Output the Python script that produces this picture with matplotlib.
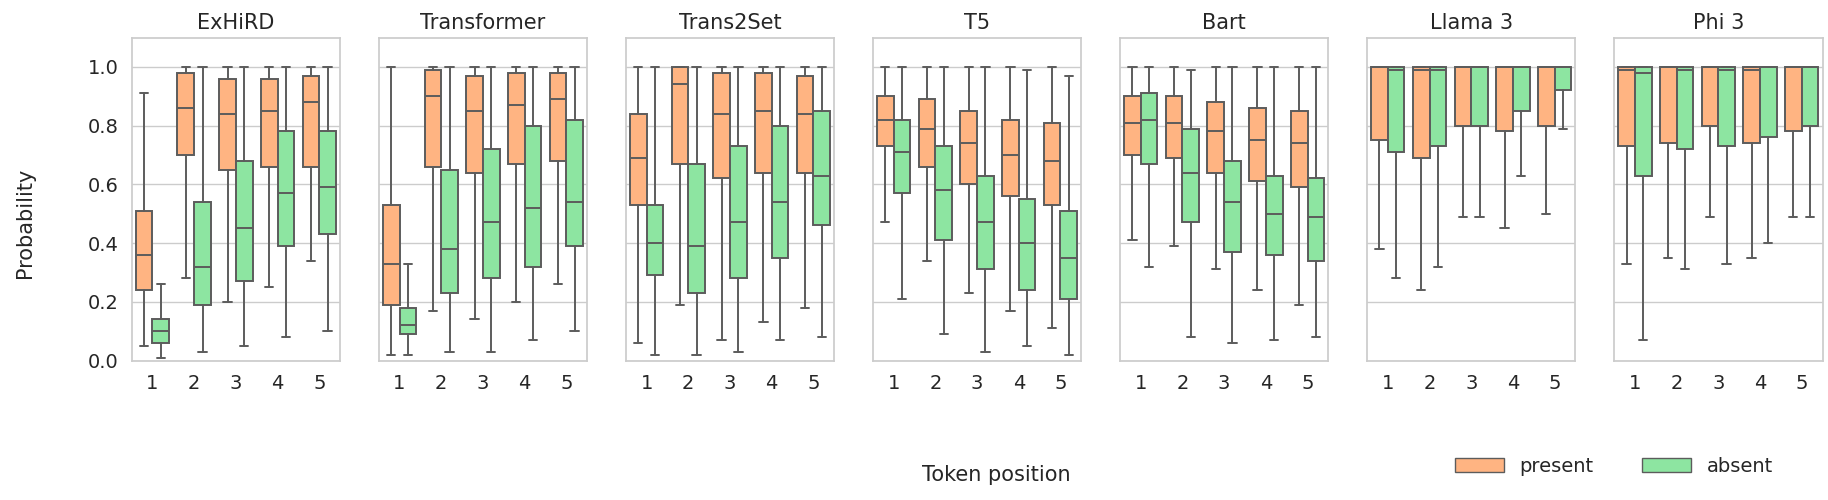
import matplotlib
matplotlib.use("Agg")
import matplotlib.pyplot as plt
import seaborn as sns
from matplotlib.patches import Patch

sns.set_theme(style="whitegrid")
plt.rcParams['font.family'] = ['DejaVu Sans']

models = ["ExHiRD", "Transformer", "Trans2Set", "T5", "Bart", "Llama 3", "Phi 3"]
positions = [1, 2, 3, 4, 5]

# 各モデルの箱ひげ統計: (whislo, q1, med, q3, whishi) を位置1..5ごとに
present = {
    "ExHiRD": [(0.05, 0.24, 0.36, 0.51, 0.91), (0.28, 0.70, 0.86, 0.98, 1.0), (0.20, 0.65, 0.84, 0.96, 1.0),
               (0.25, 0.66, 0.85, 0.96, 1.0), (0.34, 0.66, 0.88, 0.97, 1.0)],
    "Transformer": [(0.02, 0.19, 0.33, 0.53, 1.0), (0.17, 0.66, 0.90, 0.99, 1.0), (0.14, 0.64, 0.85, 0.97, 1.0),
                    (0.20, 0.67, 0.87, 0.98, 1.0), (0.26, 0.68, 0.89, 0.98, 1.0)],
    "Trans2Set": [(0.06, 0.53, 0.69, 0.84, 1.0), (0.19, 0.67, 0.94, 1.0, 1.0), (0.07, 0.62, 0.84, 0.98, 1.0),
                  (0.13, 0.64, 0.85, 0.98, 1.0), (0.18, 0.64, 0.84, 0.97, 1.0)],
    "T5": [(0.47, 0.73, 0.82, 0.90, 1.0), (0.34, 0.66, 0.79, 0.89, 1.0), (0.23, 0.60, 0.74, 0.85, 1.0),
           (0.17, 0.56, 0.70, 0.82, 1.0), (0.11, 0.53, 0.68, 0.81, 1.0)],
    "Bart": [(0.41, 0.70, 0.81, 0.90, 1.0), (0.39, 0.69, 0.81, 0.90, 1.0), (0.31, 0.64, 0.78, 0.88, 1.0),
             (0.24, 0.61, 0.75, 0.86, 1.0), (0.19, 0.59, 0.74, 0.85, 1.0)],
    "Llama 3": [(0.38, 0.75, 1.0, 1.0, 1.0), (0.24, 0.69, 0.99, 1.0, 1.0), (0.49, 0.80, 1.0, 1.0, 1.0),
                (0.45, 0.78, 1.0, 1.0, 1.0), (0.50, 0.80, 1.0, 1.0, 1.0)],
    "Phi 3": [(0.33, 0.73, 0.99, 1.0, 1.0), (0.35, 0.74, 1.0, 1.0, 1.0), (0.49, 0.80, 1.0, 1.0, 1.0),
              (0.35, 0.74, 0.99, 1.0, 1.0), (0.49, 0.78, 1.0, 1.0, 1.0)],
}
absent = {
    "ExHiRD": [(0.01, 0.06, 0.10, 0.14, 0.26), (0.03, 0.19, 0.32, 0.54, 1.0), (0.05, 0.27, 0.45, 0.68, 1.0),
               (0.08, 0.39, 0.57, 0.78, 1.0), (0.10, 0.43, 0.59, 0.78, 1.0)],
    "Transformer": [(0.02, 0.09, 0.12, 0.18, 0.33), (0.03, 0.23, 0.38, 0.65, 1.0), (0.03, 0.28, 0.47, 0.72, 1.0),
                    (0.07, 0.32, 0.52, 0.80, 1.0), (0.10, 0.39, 0.54, 0.82, 1.0)],
    "Trans2Set": [(0.02, 0.29, 0.40, 0.53, 1.0), (0.02, 0.23, 0.39, 0.67, 1.0), (0.03, 0.28, 0.47, 0.73, 1.0),
                  (0.07, 0.35, 0.54, 0.80, 1.0), (0.08, 0.46, 0.63, 0.85, 1.0)],
    "T5": [(0.21, 0.57, 0.71, 0.82, 1.0), (0.09, 0.41, 0.58, 0.73, 1.0), (0.03, 0.31, 0.47, 0.63, 1.0),
           (0.05, 0.24, 0.40, 0.55, 0.99), (0.02, 0.21, 0.35, 0.51, 0.97)],
    "Bart": [(0.32, 0.67, 0.82, 0.91, 1.0), (0.08, 0.47, 0.64, 0.79, 0.99), (0.06, 0.37, 0.54, 0.68, 1.0),
             (0.07, 0.36, 0.50, 0.63, 1.0), (0.08, 0.34, 0.49, 0.62, 1.0)],
    "Llama 3": [(0.28, 0.71, 0.99, 1.0, 1.0), (0.32, 0.73, 0.99, 1.0, 1.0), (0.49, 0.80, 1.0, 1.0, 1.0),
                (0.63, 0.85, 1.0, 1.0, 1.0), (0.79, 0.92, 1.0, 1.0, 1.0)],
    "Phi 3": [(0.07, 0.63, 0.98, 1.0, 1.0), (0.31, 0.72, 0.99, 1.0, 1.0), (0.33, 0.73, 0.99, 1.0, 1.0),
              (0.40, 0.76, 1.0, 1.0, 1.0), (0.49, 0.80, 1.0, 1.0, 1.0)],
}

c_present = "#FFB482"
c_absent = "#8DE5A1"
line_c = "#5c5c5c"


def to_stats(rows):
    return [dict(whislo=r[0], q1=r[1], med=r[2], q3=r[3], whishi=r[4]) for r in rows]


fig, axes = plt.subplots(1, 7, figsize=(18.28, 5), dpi=100, sharey=True)
fig.subplots_adjust(left=0.072, right=0.997, top=0.925, bottom=0.279, wspace=0.185)

for ax, m in zip(axes, models):
    for data, off, col in [(present[m], -0.2, c_present), (absent[m], 0.2, c_absent)]:
        ax.bxp(to_stats(data), positions=[p + off for p in positions], widths=0.4,
               showfliers=False, patch_artist=True,
               boxprops=dict(facecolor=col, edgecolor=line_c, linewidth=1.4),
               medianprops=dict(color=line_c, linewidth=1.4),
               whiskerprops=dict(color=line_c, linewidth=1.4),
               capprops=dict(color=line_c, linewidth=1.4))
    ax.set_xlim(0.5, 5.5)
    ax.set_ylim(0, 1.1)
    ax.set_xticks(positions)
    ax.set_xticklabels([str(p) for p in positions], fontsize=14)
    ax.set_yticks([0.0, 0.2, 0.4, 0.6, 0.8, 1.0])
    ax.grid(axis="x", visible=False)
    ax.set_title(m, fontsize=15)
    for s in ax.spines.values():
        s.set_color("#cccccc")

axes[0].set_yticklabels(["0.0", "0.2", "0.4", "0.6", "0.8", "1.0"], fontsize=14)
fig.text(0.008, 0.555, "Probability", rotation=90, va="center", ha="left", fontsize=15)
fig.text(0.545, 0.05, "Token position", ha="center", va="center", fontsize=15)

handles = [Patch(facecolor=c_present, edgecolor=line_c, label="present"),
           Patch(facecolor=c_absent, edgecolor=line_c, label="absent")]
fig.legend(handles=handles, loc="center", bbox_to_anchor=(0.883, 0.068), ncol=2,
           frameon=False, fontsize=14, handlelength=2.5, columnspacing=2.5)

plt.savefig("out.png", dpi=100)
